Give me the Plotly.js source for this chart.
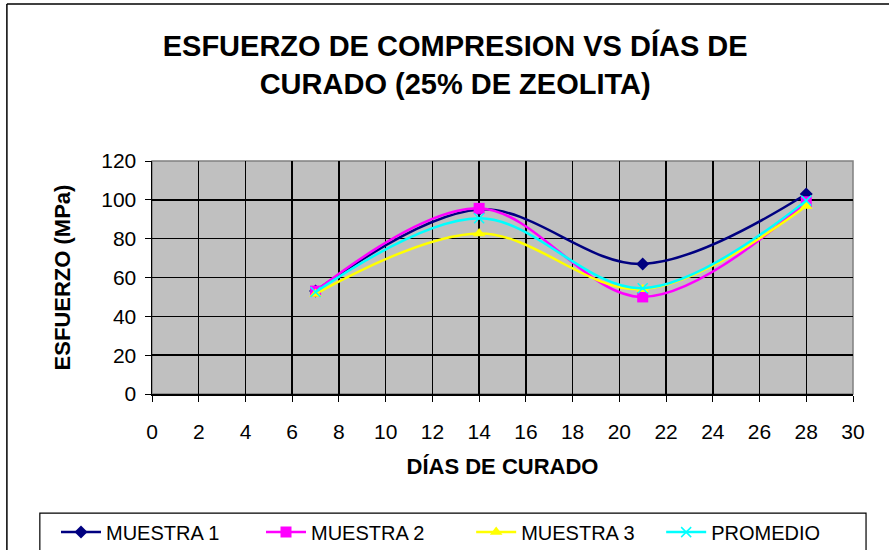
<!DOCTYPE html>
<html>
<head>
<meta charset="utf-8">
<script src="https://cdn.plot.ly/plotly-3.0.1.min.js"></script>
<style>html,body{margin:0;padding:0;background:#fff;}#chart{width:889px;height:550px;}</style>
</head>
<body>
<div id="chart"></div>
<script>
const dias = [7, 14, 21, 28];
const muestra1 = [53, 95, 67, 103];
const muestra2 = [53, 95.6, 50, 99];
const muestra3 = [51.5, 82.7, 54, 96.8];
const promedio = [52.5, 90.5, 54.5, 99.6];
const seriesNames = ["MUESTRA 1", "MUESTRA 2", "MUESTRA 3", "PROMEDIO"];
const xTicks = [0,2,4,6,8,10,12,14,16,18,20,22,24,26,28,30];
const yTicks = [0,20,40,60,80,100,120];

const font = "Liberation Sans, Arial, sans-serif";
const styles = [
  {color:"#000080", symbol:"diamond", size:10, legend:"legend"},
  {color:"#FF00FF", symbol:"square", size:11, legend:"legend"},
  {color:"#FFFF00", symbol:"triangle-up", size:11, legend:"legend2"},
  {color:"#00FFFF", symbol:"x-thin-open", size:10, legend:"legend2"}
];
const ys = [muestra1, muestra2, muestra3, promedio];
const traces = ys.map((y,i)=>({
  x: dias, y: y, name: seriesNames[i], type:"scatter", mode:"lines+markers",
  legend: styles[i].legend,
  line:{color:styles[i].color, width:2.5, shape:"spline", smoothing:1},
  marker:{color:styles[i].color, symbol:styles[i].symbol, size:styles[i].size,
          line:{color:styles[i].color, width: i===3?1.5:0}}
}));

const legendBase = {orientation:"h", xref:"container", yref:"container", xanchor:"left", y:0.068, yanchor:"top",
          borderwidth:0, bgcolor:"rgba(0,0,0,0)", font:{size:20, family:font}, itemwidth:40};

const layout = {
  width:889, height:550,
  paper_bgcolor:"#ffffff", plot_bgcolor:"#c0c0c0",
  margin:{l:152, r:36, t:161, b:156},
  font:{family:font, color:"#000"},
  title:{text:"<b>ESFUERZO DE COMPRESION VS DÍAS DE<br>CURADO (25% DE ZEOLITA)</b>",
         font:{family:font, size:29, color:"#000"}, x:0.512, xanchor:"center", y:0.898, yanchor:"top"},
  xaxis:{range:[0,30], tickvals:xTicks, ticktext:xTicks.map(String), showgrid:true, gridcolor:"#000", gridwidth:1.5,
         zeroline:false, showline:true, linecolor:"#000", linewidth:1.5, ticks:"outside", ticklen:6, tickcolor:"#000",
         tickfont:{size:21, family:font}, ticklabelstandoff:12,
         title:{text:"<b>DÍAS DE CURADO</b>", font:{size:22, family:font}, standoff:17}},
  yaxis:{range:[0,120], tickvals:yTicks, showgrid:true, gridcolor:"#000", gridwidth:1.5,
         zeroline:false, showline:true, linecolor:"#000", linewidth:1.5, ticks:"outside", ticklen:6, tickcolor:"#000",
         tickfont:{size:21, family:font}, ticklabelstandoff:4,
         title:{text:"<b>ESFUERZO (MPa)</b>", font:{size:22, family:font}, standoff:24}},
  showlegend:true,
  legend: Object.assign({}, legendBase, {x:0.063, entrywidth:150}),
  legend2: Object.assign({}, legendBase, {x:0.530, entrywidth:135}),
  shapes:[
    {type:"rect", xref:"paper", yref:"paper", x0:0, x1:1, y0:0, y1:1, line:{color:"#808080", width:1.5}, layer:"below", fillcolor:"rgba(0,0,0,0)"},
    {type:"line", xref:"paper", yref:"paper", x0:-0.207, x1:-0.207, y0:-0.7, y1:1.674, line:{color:"#000", width:1.5}},
    {type:"line", xref:"paper", yref:"paper", x0:-0.207, x1:1.06, y0:1.674, y1:1.674, line:{color:"#000", width:1.5}},
    {type:"rect", xref:"paper", yref:"paper", x0:-0.16, x1:1.0186, y0:-0.72, y1:-0.511, line:{color:"#000", width:1.2}, fillcolor:"rgba(0,0,0,0)"}
  ]
};
Plotly.newPlot("chart", traces, layout, {displayModeBar:false, staticPlot:true});
</script>
</body>
</html>
